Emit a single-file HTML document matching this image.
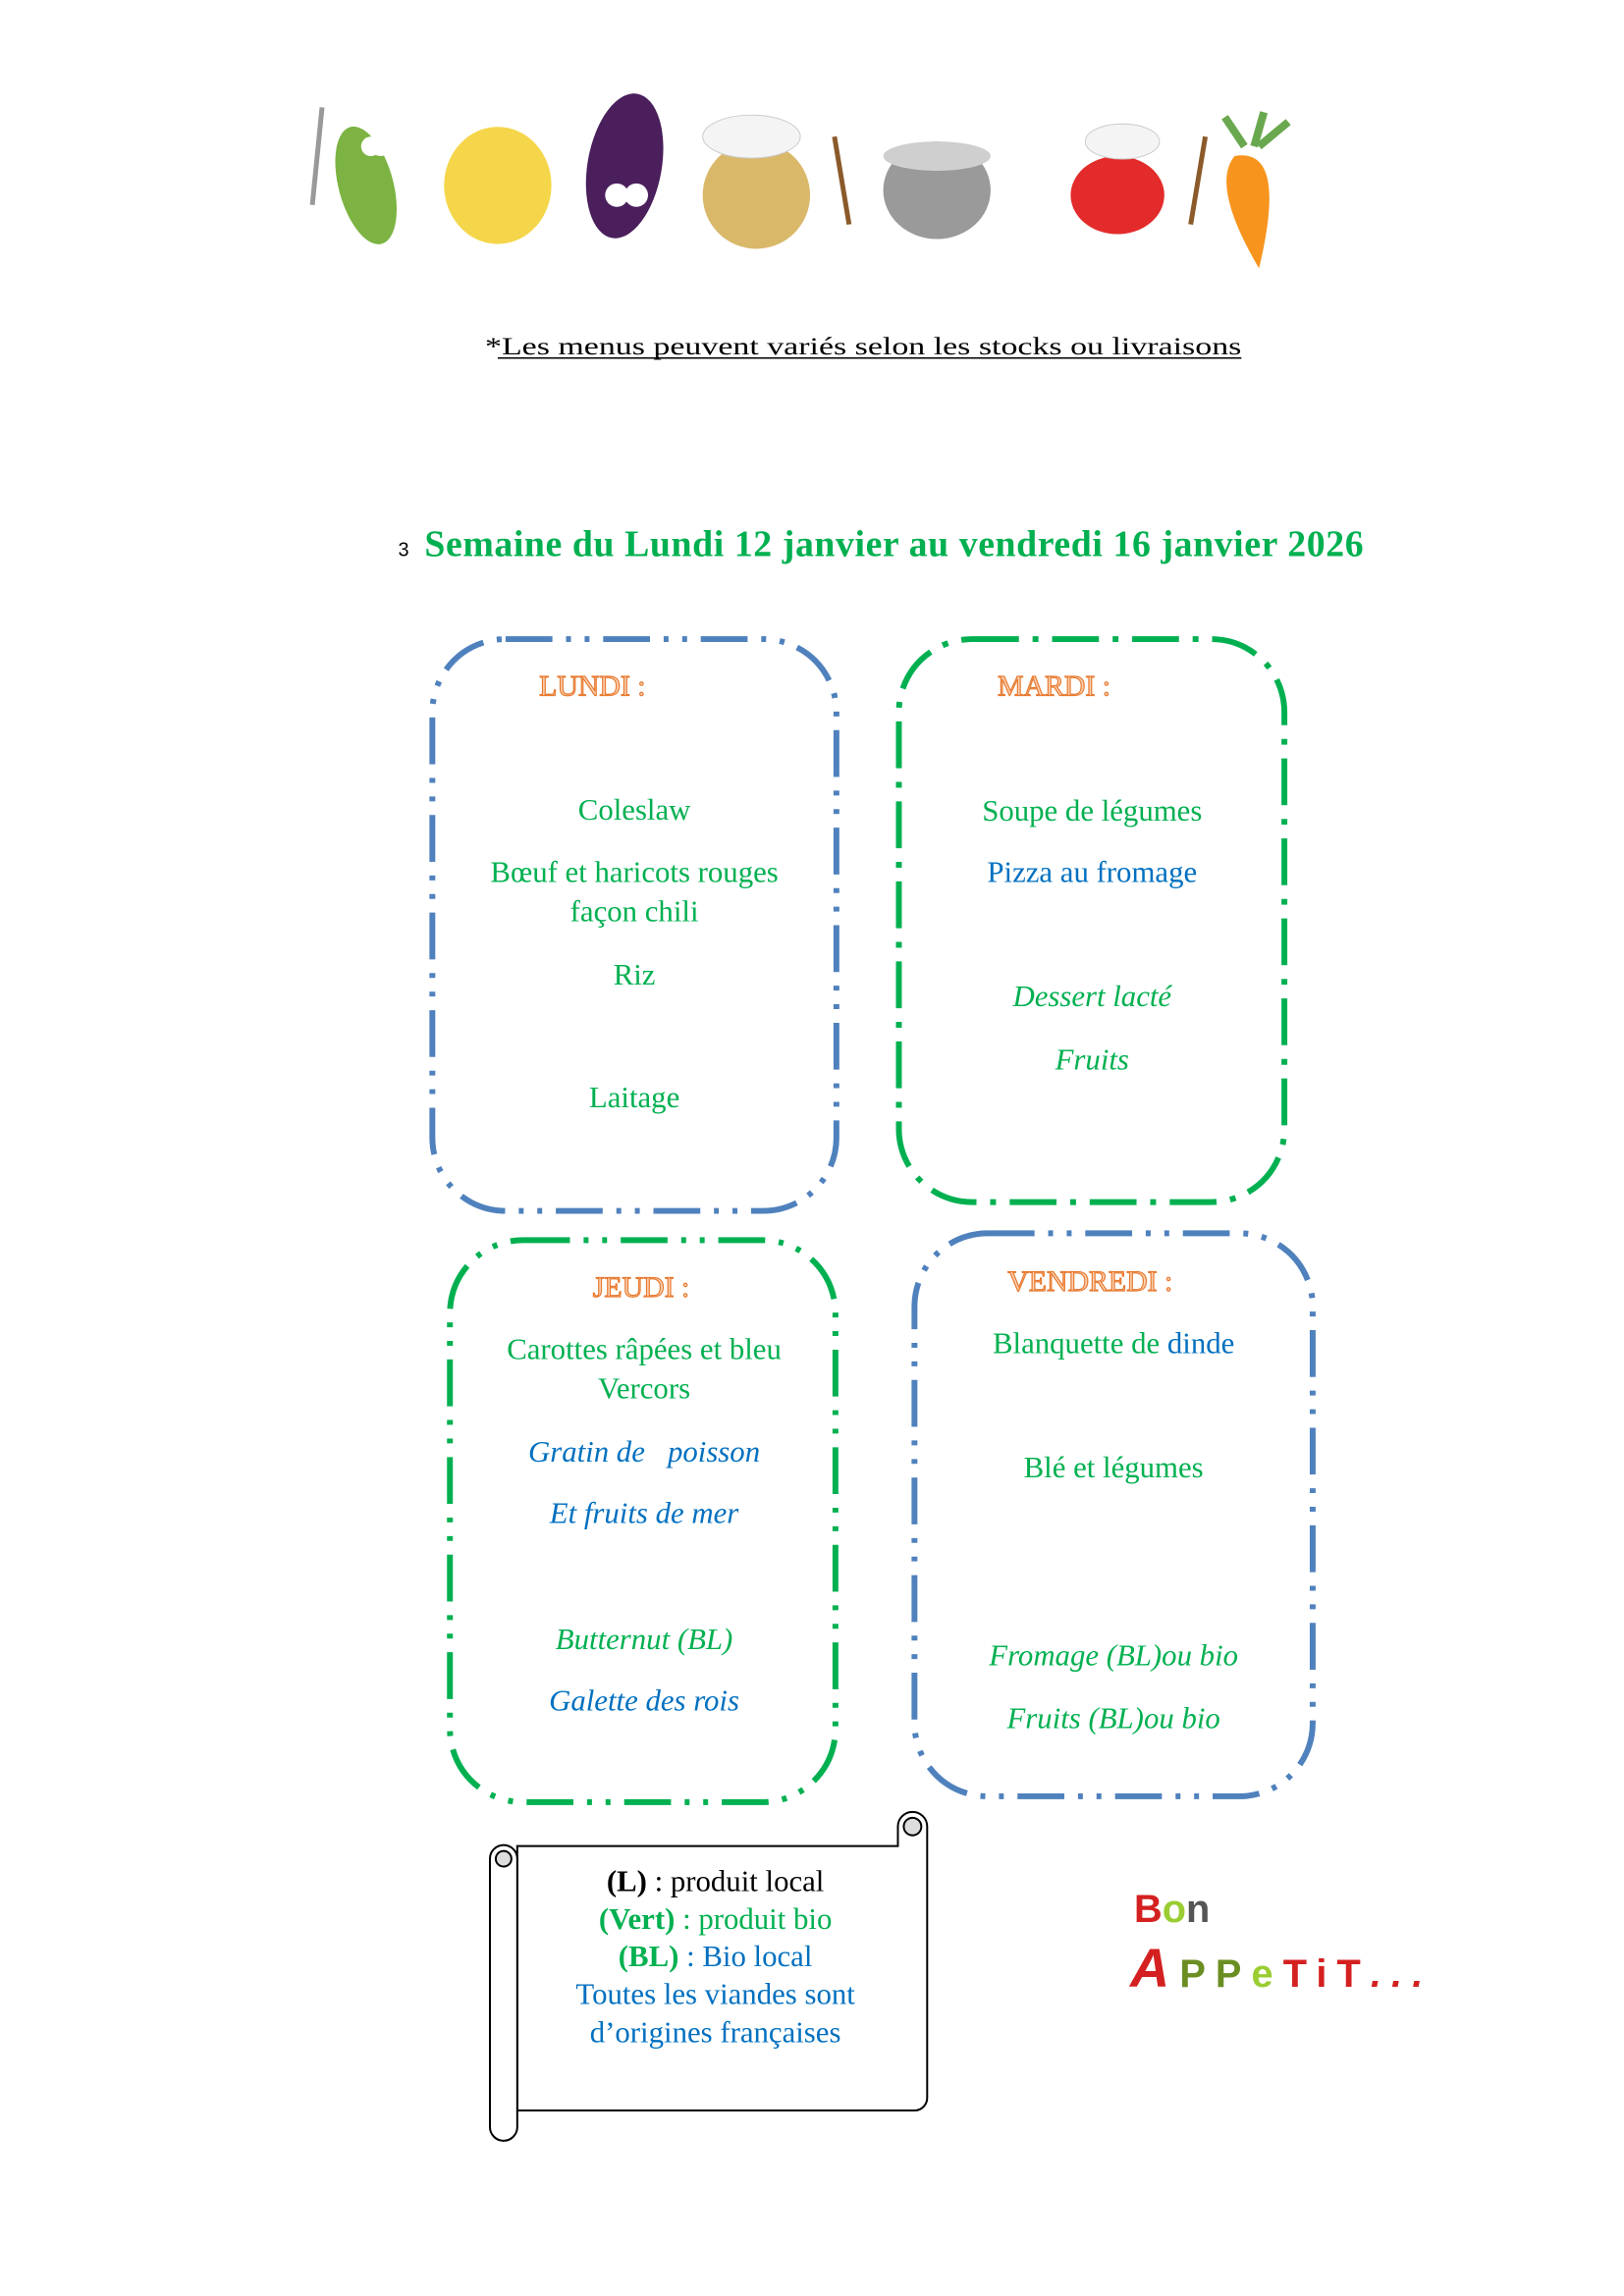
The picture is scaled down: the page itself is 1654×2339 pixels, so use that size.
<!DOCTYPE html>
<html><head><meta charset="utf-8"><style>
html,body{margin:0;padding:0;background:#fff}
svg{display:block}
.s{font-family:"Liberation Serif",serif}
.g{fill:#00b050}.b{fill:#0070c0}
.h{fill:#fbd0b0;stroke:#e87a30;stroke-width:1.2;font-size:30px}
.it{font-size:31px;text-anchor:middle}
</style></head><body>
<svg width="1654" height="2339" viewBox="0 0 1654 2339" xmlns="http://www.w3.org/2000/svg">
<g transform="scale(0.994)">
<!-- header characters -->
<g>
<ellipse cx="375" cy="190" rx="28" ry="62" fill="#7cb342" transform="rotate(-15 375 190)"/>
<circle cx="380" cy="150" r="10" fill="#fff"/><circle cx="390" cy="150" r="10" fill="#fff"/>
<ellipse cx="510" cy="190" rx="55" ry="60" fill="#f5d64a"/>
<ellipse cx="640" cy="170" rx="38" ry="75" fill="#4a1f5c" transform="rotate(10 640 170)"/>
<circle cx="632" cy="200" r="12" fill="#fff"/><circle cx="652" cy="200" r="12" fill="#fff"/>
<ellipse cx="775" cy="200" rx="55" ry="55" fill="#d9b86a"/>
<ellipse cx="770" cy="140" rx="50" ry="22" fill="#f4f4f4" stroke="#ccc"/>
<ellipse cx="960" cy="195" rx="55" ry="50" fill="#9a9a9a"/>
<ellipse cx="960" cy="160" rx="55" ry="15" fill="#cfcfcf"/>
<ellipse cx="1145" cy="200" rx="48" ry="40" fill="#e32b2b"/>
<ellipse cx="1150" cy="145" rx="38" ry="18" fill="#f4f4f4" stroke="#ccc"/>
<path d="M1265 160 Q1320 150 1290 275 Q1240 190 1265 160Z" fill="#f7941d"/>
<path d="M1275 150 l-20 -30 M1285 150 l10 -35 M1290 150 l30 -25" stroke="#6aa84f" stroke-width="8"/>
<line x1="330" y1="110" x2="320" y2="210" stroke="#999" stroke-width="5"/>
<line x1="855" y1="140" x2="870" y2="230" stroke="#8b5a2b" stroke-width="5"/>
<line x1="1235" y1="140" x2="1220" y2="230" stroke="#8b5a2b" stroke-width="5"/>
</g>
<text class="s" x="497" y="363" font-size="26" fill="#000" textLength="775" lengthAdjust="spacingAndGlyphs">*Les menus peuvent variés selon les stocks ou livraisons</text>
<line x1="510" y1="367" x2="1272" y2="367" stroke="#000" stroke-width="1.5"/>
<text x="408" y="570" font-family="Liberation Sans,sans-serif" font-size="20" fill="#000">3</text>
<text class="s" x="435" y="570" font-size="38" font-weight="bold" fill="#00b050" textLength="962">Semaine du Lundi 12 janvier au vendredi 16 janvier 2026</text>

<!-- boxes -->
<rect x="443" y="655" width="414" height="586" rx="75" fill="none" stroke="#4f81bd" stroke-width="6" stroke-dasharray="48 14 5 14 5 14"/>
<rect x="921" y="655" width="395" height="577" rx="75" fill="none" stroke="#00b050" stroke-width="6" stroke-dasharray="48 14 6 14"/>
<rect x="461" y="1271" width="395" height="576" rx="75" fill="none" stroke="#00b050" stroke-width="6" stroke-dasharray="48 14 5 14 5 14"/>
<rect x="937" y="1264" width="408" height="577" rx="75" fill="none" stroke="#4f81bd" stroke-width="6" stroke-dasharray="48 14 5 14 5 14"/>

<g class="s">
<text class="h" x="607" y="713" text-anchor="middle">LUNDI :</text>
<text class="it g" x="650" y="840">Coleslaw</text>
<text class="it g" x="650" y="904">Bœuf et haricots rouges</text>
<text class="it g" x="650" y="944">façon chili</text>
<text class="it g" x="650" y="1009">Riz</text>
<text class="it g" x="650" y="1135">Laitage</text>

<text class="h" x="1080" y="713" text-anchor="middle">MARDI :</text>
<text class="it g" x="1119" y="841">Soupe de légumes</text>
<text class="it b" x="1119" y="904">Pizza au fromage</text>
<text class="it g" x="1119" y="1031" font-style="italic">Dessert lacté</text>
<text class="it g" x="1119" y="1096" font-style="italic">Fruits</text>

<text class="h" x="657" y="1329" text-anchor="middle">JEUDI :</text>
<text class="it g" x="660" y="1393">Carottes râpées et bleu</text>
<text class="it g" x="660" y="1433">Vercors</text>
<text class="it b" x="660" y="1498" font-style="italic">Gratin de &#160; poisson</text>
<text class="it b" x="660" y="1561" font-style="italic">Et fruits de mer</text>
<text class="it g" x="660" y="1690" font-style="italic">Butternut (BL)</text>
<text class="it b" x="660" y="1753" font-style="italic">Galette des rois</text>

<text class="h" x="1117" y="1323" text-anchor="middle">VENDREDI :</text>
<text class="it" x="1141" y="1387"><tspan class="g">Blanquette de </tspan><tspan class="b">dinde</tspan></text>
<text class="it g" x="1141" y="1514">Blé et légumes</text>
<text class="it g" x="1141" y="1707" font-style="italic">Fromage (BL)ou bio</text>
<text class="it g" x="1141" y="1771" font-style="italic">Fruits (BL)ou bio</text>
</g>

<!-- scroll -->
<g fill="#fff" stroke="#000" stroke-width="2">
<path d="M530 1892 H920 V1872 a14 14 0 0 1 30 0 V2150 a13 13 0 0 1 -13 13 H530 Z"/>
<path d="M502 1905 a14 14 0 0 1 28 0 V2180 a14 14 0 0 1 -28 0 Z"/>
<circle cx="516" cy="1905" r="8" fill="#ddd"/>
<circle cx="935" cy="1872" r="9" fill="#ddd"/>
</g>
<g class="s" font-size="31" text-anchor="middle">
<text x="733" y="1938" fill="#000"><tspan font-weight="bold">(L)</tspan> : produit local</text>
<text x="733" y="1977" class="g"><tspan font-weight="bold">(Vert)</tspan> : produit bio</text>
<text x="733" y="2015"><tspan class="g" font-weight="bold">(BL)</tspan><tspan class="b"> : Bio local</tspan></text>
<text x="733" y="2054" class="b">Toutes les viandes sont</text>
<text x="733" y="2093" class="b">d’origines françaises</text>
</g>
<!-- Bon appetit -->
<g font-family="Liberation Sans,sans-serif" font-weight="bold">
<text x="1162" y="1970" font-size="40" fill="#d42020">B<tspan fill="#9acd32">o</tspan><tspan fill="#555">n</tspan></text>
<text x="1158" y="2036" font-size="56" fill="#d42020" font-style="italic" textLength="300" lengthAdjust="spacing">A<tspan font-size="40" font-style="normal" fill="#6b8e23">PP</tspan><tspan font-size="40" font-style="normal" fill="#9acd32">e</tspan><tspan font-size="40" font-style="normal" fill="#d42020">TiT</tspan><tspan font-size="40" fill="#d42020">...</tspan></text>
</g>
</g>
</svg>
</body></html>
